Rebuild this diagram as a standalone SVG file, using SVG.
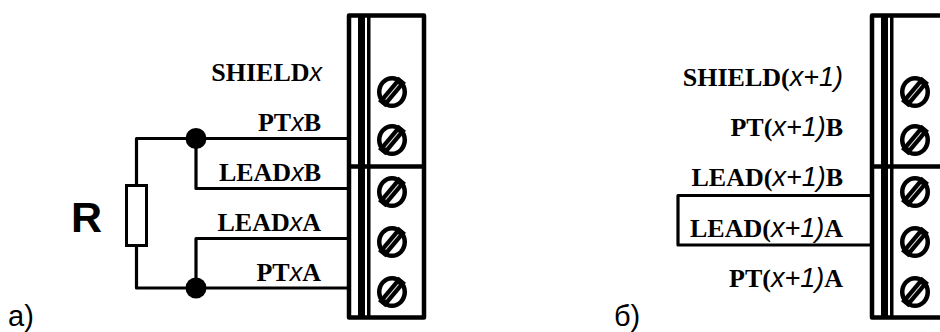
<svg xmlns="http://www.w3.org/2000/svg" width="940" height="332" viewBox="0 0 940 332">
<style>
.b{fill:none;stroke:#000;stroke-width:4.5;stroke-linejoin:round}
.w{fill:none;stroke:#000;stroke-width:3.2;stroke-linejoin:round;stroke-linecap:square}
.l{font:bold 26px "Liberation Serif",serif;text-anchor:end;fill:#000}
.x{font:italic 400 25px "Liberation Sans",sans-serif}
.y{font:italic 400 27px "Liberation Sans",sans-serif}
.c{font:29px "Liberation Sans",sans-serif;fill:#000}
</style>
<defs>
<g id="s">
<ellipse rx="15" ry="16" fill="#000"/>
<ellipse rx="10.500" ry="11.500" fill="#fff"/>
<rect x="-16" y="-4.800" width="32" height="9.600" fill="#000" transform="rotate(-50)"/>
<line x1="-10" x2="10" stroke="#ddd" stroke-width="1" transform="rotate(-50)"/>
</g>
<g id="block">
<path class="b" d="M0 0H75V302H0Z"/>
<path class="b" d="M0 151H75"/>
<path d="M9 0H16V302H9Z" fill="#000"/>
<path d="M18.500 0H21V302H18.500Z" fill="#000" stroke="#000" stroke-width="1"/>
</g>
</defs>
<g id="connectors">
<path class="w" d="M196 138.500H136.500V185M136.500 245V288H196M196 138.500V188.500H347M196 288V238.500H347M196 138.500H347M196 288H347"/>
<path class="w" d="M870 195.500H678V245H870"/>
</g>
<g id="resistor"><rect x="126.500" y="185.500" width="20" height="60" fill="#fff" stroke="#000" stroke-width="3"/></g>
<g id="junction-top"><circle cx="196" cy="138.500" r="10.500"/></g>
<g id="junction-bottom"><circle cx="196" cy="288" r="10.500"/></g>
<g id="terminal-a">
<use href="#block" x="349" y="15.500"/>
<use href="#s" x="392" y="92"/><use href="#s" x="392" y="140"/><use href="#s" x="392" y="192"/><use href="#s" x="392" y="242"/><use href="#s" x="392" y="292"/>
</g>
<g id="terminal-b">
<use href="#block" x="872" y="15.500"/>
<use href="#s" x="915" y="92"/><use href="#s" x="915" y="140"/><use href="#s" x="915" y="192"/><use href="#s" x="915" y="242"/><use href="#s" x="915" y="292"/>
</g>
<g id="labels">
<text class="l" x="322" y="80.500">SHIELD<tspan class="x">x</tspan></text>
<text class="l" x="321" y="130.500">PT<tspan class="x">x</tspan>B</text>
<text class="l" x="321" y="180.500">LEAD<tspan class="x">x</tspan>B</text>
<text class="l" x="321" y="231">LEAD<tspan class="x">x</tspan>A</text>
<text class="l" x="321" y="281">PT<tspan class="x">x</tspan>A</text>
<text class="l" x="843" y="85.500">SHIELD(<tspan class="y">x+1)</tspan></text>
<text class="l" x="843" y="135.500">PT(<tspan class="y">x+1)</tspan>B</text>
<text class="l" x="843" y="185.500">LEAD(<tspan class="y">x+1)</tspan>B</text>
<text class="l" x="843" y="236.500">LEAD(<tspan class="y">x+1)</tspan>A</text>
<text class="l" x="843" y="286.500">PT(<tspan class="y">x+1)</tspan>A</text>
<text x="71" y="232" font-family="Liberation Sans" font-weight="700" font-size="43">R</text>
<text class="c" x="8" y="326">а)</text>
<text class="c" x="614" y="326">б)</text>
</g>
</svg>
